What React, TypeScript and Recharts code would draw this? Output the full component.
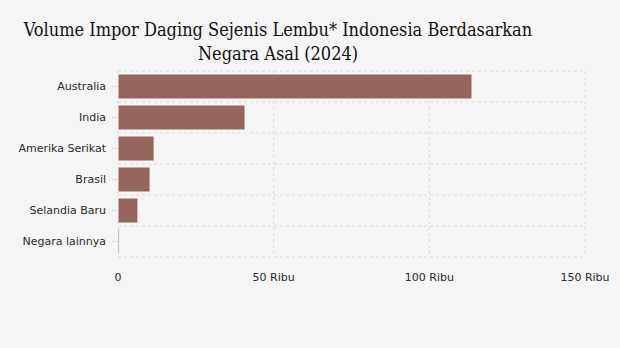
import React from 'react';
import { BarChart, Bar, XAxis, YAxis, CartesianGrid } from 'recharts';

const countries = ['Australia', 'India', 'Amerika Serikat', 'Brasil', 'Selandia Baru', 'Negara lainnya'];
const volumes = [113700, 40800, 11600, 10300, 6400, 400];
const xTicks = [0, 50000, 100000, 150000];

const data = countries.map((name, i) => ({ name, value: volumes[i] }));

const formatTick = (v: number) => (v === 0 ? '0' : `${v / 1000} Ribu`);

// grid lines sit on the band edges, not the band centres
const bandEdges = ({ offset }: any) => {
  const n = countries.length;
  const out: number[] = [];
  for (let i = 0; i <= n; i++) out.push(offset.top + (offset.height * i) / n);
  return out;
};

const tickFont = { fontFamily: 'DejaVu Sans', fontSize: 11, fill: '#2a2a2a' };

export default function App() {
  return (
    <div style={{ position: 'relative', width: 620, height: 348, background: '#f5f5f5' }}>
      <style>{`body{margin:0}`}</style>
      <div
        style={{
          position: 'absolute',
          left: 0,
          top: 18,
          width: 556,
          textAlign: 'center',
          fontFamily: '"DejaVu Serif Condensed", "DejaVu Serif", serif',
          fontSize: 18,
          lineHeight: '24px',
          color: '#111',
        }}
      >
        Volume Impor Daging Sejenis Lembu* Indonesia Berdasarkan
        <br />
        Negara Asal (2024)
      </div>
      <BarChart
        width={620}
        height={348}
        data={data}
        layout="vertical"
        margin={{ top: 71, right: 35, bottom: 60, left: 0 }}
        barCategoryGap={3}
      >
        <CartesianGrid
          stroke="#dcdcdc"
          strokeDasharray="3 3"
          horizontalCoordinatesGenerator={bandEdges}
        />
        <XAxis
          type="number"
          domain={[0, 150000]}
          ticks={xTicks}
          tickFormatter={formatTick}
          axisLine={false}
          tickLine={false}
          tick={tickFont}
          tickMargin={10}
          height={31}
          interval={0}
        />
        <YAxis
          type="category"
          dataKey="name"
          width={118}
          axisLine={false}
          tickLine={{ stroke: '#ddd' }}
          tickSize={6}
          tickMargin={6}
          tick={tickFont}
          interval={0}
        />
        <Bar dataKey="value" fill="#96665c" stroke="#f5f5f5" strokeWidth={1} isAnimationActive={false} />
      </BarChart>
    </div>
  );
}
